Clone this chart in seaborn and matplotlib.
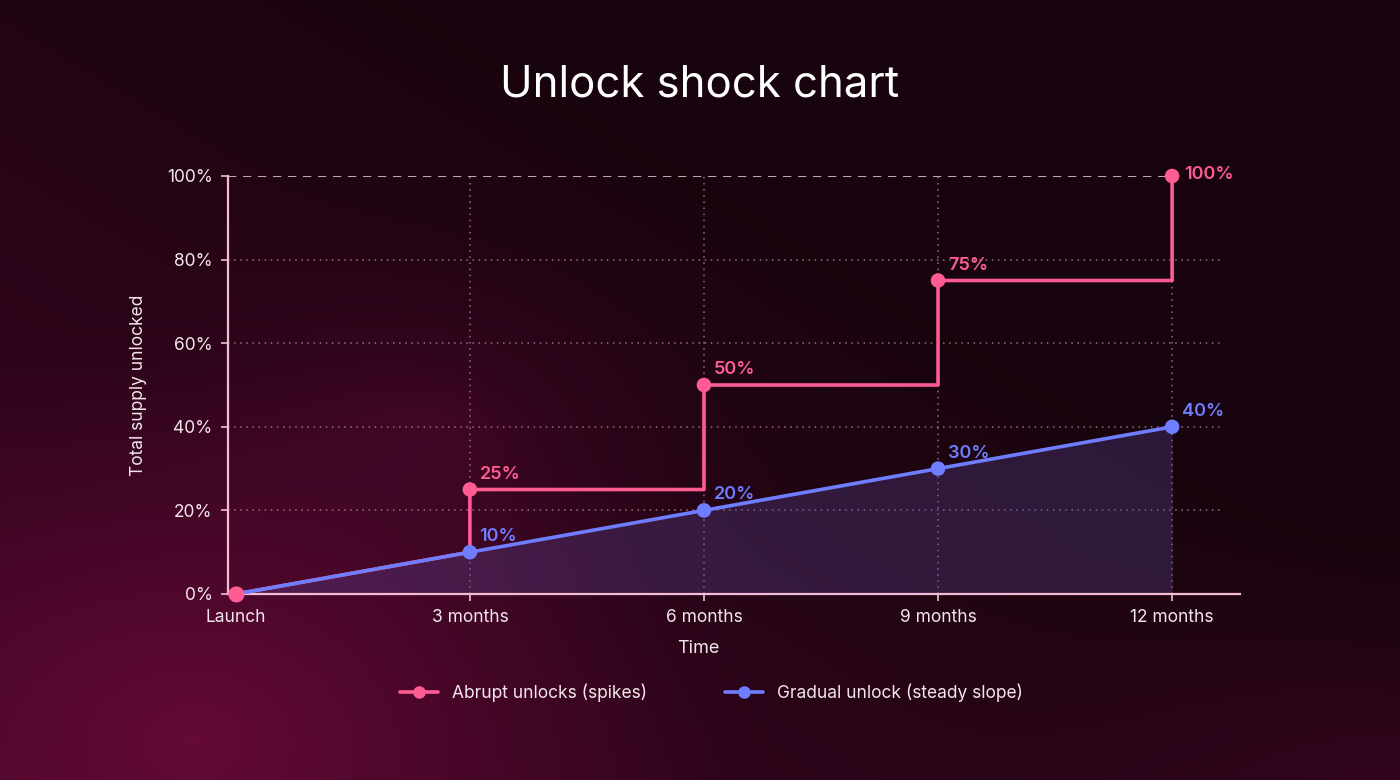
import numpy as np
import matplotlib.pyplot as plt
import seaborn as sns
from matplotlib.lines import Line2D

# data
tick_months = [0, 3, 6, 9, 12]
tick_labels = ["Launch", "3 months", "6 months", "9 months", "12 months"]

gradual_x = [0, 3, 6, 9, 12]
gradual_y = [0, 10, 20, 30, 40]

abrupt_path_x = [0, 3, 3, 6, 6, 9, 9, 12, 12]
abrupt_path_y = [0, 10, 25, 25, 50, 50, 75, 75, 100]
abrupt_pts_x = [0, 3, 6, 9, 12]
abrupt_pts_y = [0, 25, 50, 75, 100]

y_ticks = [0, 20, 40, 60, 80, 100]

PINK = "#ff5c93"
BLUE = "#6f7dff"
TEXT = "#f3e6ec"
AXIS = "#f4bcd2"

sns.set_theme(style="dark")
plt.rcParams["font.family"] = ["Inter", "DejaVu Sans"]

fig = plt.figure(figsize=(14, 7.8), dpi=100)

# background gradient (dark top-right, magenta glow bottom-left)
bg = fig.add_axes([0, 0, 1, 1])
h, w = 390, 700
yy, xx = np.mgrid[0:h, 0:w]
xn, yn = xx / w * 1.8, yy / h
dark = np.array([0x18, 0x04, 0x0e]) / 255
mid = np.array([0x3c, 0x05, 0x22]) / 255
glow = np.array([0x6a, 0x0a, 0x3c]) / 255
t = np.clip(((1.8 - xn) * 0.45 + yn * 0.75 - 0.55) / 1.0, 0, 1)
img = dark[None, None, :] * (1 - t[..., None]) + mid[None, None, :] * t[..., None]
d = np.sqrt(((xn - 0.25) / 0.75) ** 2 + ((yn - 0.95) / 0.55) ** 2)
g = np.clip(1 - d, 0, 1) ** 1.3 * 0.9
img = img * (1 - g[..., None]) + glow[None, None, :] * g[..., None]
d2 = np.sqrt(((xn - 0.55) / 0.5) ** 2 + ((yn - 0.55) / 0.35) ** 2)
g2 = np.clip(1 - d2, 0, 1) ** 2 * 0.35
img = img * (1 - g2[..., None]) + glow[None, None, :] * g2[..., None]
d3 = np.sqrt(((xn - 1.8) / 0.7) ** 2 + ((yn - 1.05) / 0.45) ** 2)
g3 = np.clip(1 - d3, 0, 1) ** 2 * 0.35
img = img * (1 - g3[..., None]) + glow[None, None, :] * g3[..., None]
bg.imshow(np.clip(img, 0, 1), aspect="auto", extent=[0, 1, 0, 1], origin="upper")
bg.axis("off")

ax = fig.add_axes([228 / 1400, 1 - 594 / 780, 1012 / 1400, 418 / 780])
ax.set_facecolor("none")
ax.set_xlim(-0.1, 12.87)
ax.set_ylim(0, 100)

# grid
for yv in y_ticks[1:-1]:
    ax.plot([-0.1, 12.67], [yv, yv], color="#b08a9c", lw=1.1, ls=(0, (1, 3)), alpha=0.8, zorder=1)
ax.plot([-0.1, 12], [100, 100], color="#e0c8d2", lw=1.2, ls=(0, (5, 4)), zorder=1)
for xv in tick_months[1:]:
    ax.plot([xv, xv], [0, 100], color="#b08a9c", lw=1.1, ls=(0, (1, 3)), alpha=0.8, zorder=1)

# fill under gradual line
ax.fill_between(gradual_x, gradual_y, 0, color="#5b4a9e", alpha=0.3, lw=0, zorder=2)

sns.lineplot(x=abrupt_path_x, y=abrupt_path_y, estimator=None, sort=False,
             color=PINK, lw=2.6, ax=ax, zorder=3)
sns.scatterplot(x=abrupt_pts_x, y=abrupt_pts_y, color=PINK, s=110, edgecolor="none",
                ax=ax, zorder=4, clip_on=False)
sns.lineplot(x=gradual_x, y=gradual_y, estimator=None, sort=False,
             color=BLUE, lw=2.6, ax=ax, zorder=5)
sns.scatterplot(x=gradual_x[1:], y=gradual_y[1:], color=BLUE, s=110, edgecolor="none",
                ax=ax, zorder=6, clip_on=False)
ax.scatter([abrupt_pts_x[0]], [abrupt_pts_y[0]], color=PINK, s=110, zorder=7, clip_on=False)

# value labels
for xv, yv in zip(abrupt_pts_x[1:], abrupt_pts_y[1:]):
    if yv == 100:
        ax.annotate(f"{yv}%", (xv, yv), xytext=(9, 1), textcoords="offset points",
                    color=PINK, fontsize=13, fontweight="semibold", ha="left", va="center")
    else:
        ax.annotate(f"{yv}%", (xv, yv), xytext=(7, 5), textcoords="offset points",
                    color=PINK, fontsize=13, fontweight="semibold", ha="left", va="bottom")
for xv, yv in zip(gradual_x[1:], gradual_y[1:]):
    ax.annotate(f"{yv}%", (xv, yv), xytext=(7, 5), textcoords="offset points",
                color=BLUE, fontsize=13, fontweight="semibold", ha="left", va="bottom")

ax.set_xticks(tick_months)
ax.set_xticklabels(tick_labels)
ax.set_yticks(y_ticks)
ax.set_yticklabels([f"{v}%" for v in y_ticks])
ax.tick_params(colors=TEXT, labelsize=12.5, length=5, width=1.2, color=AXIS, pad=6,
               bottom=True, left=True)
ax.grid(False)
for side in ["top", "right"]:
    ax.spines[side].set_visible(False)
for side in ["left", "bottom"]:
    ax.spines[side].set_color(AXIS)
    ax.spines[side].set_linewidth(1.6)
ax.set_xlabel("Time", color=TEXT, fontsize=13, labelpad=10)
ax.xaxis.label.set_x((698 - 228) / 1012)
ax.set_ylabel("Total supply unlocked", color=TEXT, fontsize=12.5, labelpad=14)

fig.text(0.5, 1 - 85 / 780, "Unlock shock chart", color="white", fontsize=31.5,
         ha="center", va="center")

handles = [
    Line2D([], [], color=PINK, lw=2.6, marker="o", markersize=8),
    Line2D([], [], color=BLUE, lw=2.6, marker="o", markersize=8),
]
fig.legend(handles, ["Abrupt unlocks (spikes)", "Gradual unlock (steady slope)"],
           loc="center", bbox_to_anchor=(0.508, 1 - 693 / 780), ncol=2, frameon=False,
           labelcolor=TEXT, fontsize=12.5, columnspacing=4.5, handlelength=2.2)

fig.savefig("out.png", dpi=100)
